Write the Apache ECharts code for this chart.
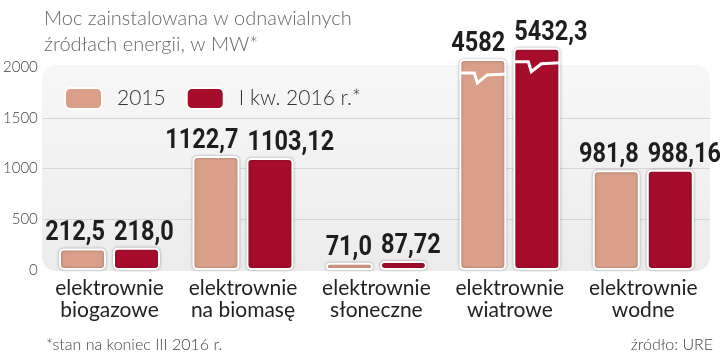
<!DOCTYPE html>
<html>
<head>
<meta charset="utf-8">
<title>Moc zainstalowana w odnawialnych źródłach energii</title>
<script src="https://cdn.jsdelivr.net/npm/echarts@6/dist/echarts.min.js"></script>
<style>
  html, body { margin: 0; padding: 0; background: #fff; }
  #chart { width: 720px; height: 353px; }
</style>
</head>
<body>
<div id="chart"></div>
<script>
// dane z wykresu
var categories = ['elektrownie\nbiogazowe', 'elektrownie\nna biomasę', 'elektrownie\nsłoneczne', 'elektrownie\nwiatrowe', 'elektrownie\nwodne'];
var values2015 = [212.5, 1122.7, 71.0, 4582, 981.8];
var values2016 = [218.0, 1103.12, 87.72, 5432.3, 988.16];
var labels2015 = ['212,5', '1122,7', '71,0', '4582', '981,8'];
var labels2016 = ['218,0', '1103,12', '87,72', '5432,3', '988,16'];
var yTicks = [0, 500, 1000, 1500, 2000];
// wysokość, na jakiej urwane są słupki powyżej skali
var brokenTop2015 = 2080;
var brokenTop2016 = 2190;

var yMax = yTicks[yTicks.length - 1];
var barW = 47, barGapPx = 7;
var col2015 = '#d99f88', col2016 = '#a50d2b';

function shown(vals, top) {
    return vals.map(function (v) { return v > yMax ? top : v; });
}
var shown2015 = shown(values2015, brokenTop2015);
var shown2016 = shown(values2016, brokenTop2016);

var brokenIdx = [];
for (var i = 0; i < categories.length; i++) {
    if (values2015[i] > yMax || values2016[i] > yMax) brokenIdx.push([i, 0]);
}

var chart = echarts.init(document.getElementById('chart'));

var barStyle = function (c) {
    return {
        color: c,
        borderColor: '#fff',
        borderWidth: 2,
        borderRadius: 4,
        shadowColor: 'rgba(0,0,0,0.28)',
        shadowBlur: 3
    };
};

// etykiety wartości - wąski, pogrubiony krój (ściśnięty w poziomie)
function labelSeries(shownVals, texts, side) {
    return {
        type: 'custom',
        clip: false,
        silent: true,
        z: 6,
        data: shownVals.map(function (v, i) { return [i, v]; }),
        encode: { x: 0, y: 1 },
        renderItem: function (params, api) {
            var idx = api.value(0);
            var c = api.coord([idx, api.value(1)]);
            var cx = c[0] + side * (barW + barGapPx) / 2;
            var x = side < 0 ? cx + barW / 2 - 1 : cx - barW / 2 + 1;
            return {
                type: 'text',
                x: x,
                y: c[1] - 1,
                scaleX: 0.84,
                style: {
                    text: texts[idx],
                    fontFamily: 'Roboto',
                    fontWeight: 'bold',
                    fontSize: 28,
                    fill: '#1e1e1e',
                    align: side < 0 ? 'right' : 'left',
                    verticalAlign: 'bottom'
                }
            };
        }
    };
}

var option = {
    animation: false,
    title: [{
        text: 'Moc zainstalowana w odnawialnych\nźródłach energii, w MW*',
        left: 39, top: 1,
        textStyle: { fontFamily: 'Lato', fontWeight: 300, fontSize: 20, lineHeight: 26, color: '#666' }
    }, {
        text: '*stan na koniec III 2016 r.',
        left: 41, top: 332,
        textStyle: { fontFamily: 'Lato', fontWeight: 300, fontSize: 16, color: '#444' }
    }, {
        text: 'źródło: URE',
        right: 2, top: 332,
        textStyle: { fontFamily: 'Lato', fontWeight: 300, fontSize: 16, color: '#444' }
    }],
    graphic: [{
        type: 'rect',
        z: -10,
        shape: { x: 42, y: 65, width: 668, height: 206, r: 14 },
        style: {
            fill: new echarts.graphic.LinearGradient(0, 0, 0, 1, [
                { offset: 0, color: '#f7f7f7' },
                { offset: 1, color: '#ececec' }
            ])
        }
    }],
    legend: {
        left: 59, top: 82,
        itemWidth: 37, itemHeight: 21, itemGap: 20,
        icon: 'roundRect',
        textStyle: { fontFamily: 'Lato', fontWeight: 300, fontSize: 21, color: '#333', padding: [0, 0, 0, 10] },
        data: ['2015', 'I kw. 2016 r.*']
    },
    grid: { left: 42, right: 10, top: 67, bottom: 83 },
    xAxis: {
        type: 'category',
        data: categories,
        axisLine: { show: false },
        axisTick: { show: false },
        axisLabel: { fontFamily: 'Lato', fontSize: 21, lineHeight: 22, color: '#222', margin: 7, interval: 0 }
    },
    yAxis: {
        type: 'value',
        min: 0, max: yMax, interval: 500,
        axisLine: { show: false },
        axisTick: { show: false },
        axisLabel: {
            fontFamily: 'Lato', fontWeight: 300, fontSize: 15, color: '#444', margin: 5,
            formatter: function (v) { return String(v); }
        },
        splitLine: { lineStyle: { color: ['transparent', '#d6d6d6', '#d6d6d6', '#d6d6d6', 'transparent'], width: 1 } }
    },
    series: [{
        name: '2015',
        type: 'bar',
        clip: false,
        barWidth: barW,
        barGap: (barGapPx / barW * 100) + '%',
        data: shown2015,
        itemStyle: barStyle(col2015)
    }, {
        name: 'I kw. 2016 r.*',
        type: 'bar',
        clip: false,
        barWidth: barW,
        data: shown2016,
        itemStyle: barStyle(col2016)
    }, {
        // białe "złamanie" na słupkach wykraczających poza skalę
        type: 'custom',
        clip: false,
        z: 5,
        silent: true,
        data: brokenIdx,
        encode: { x: 0, y: 1 },
        renderItem: function (params, api) {
            var idx = api.value(0);
            var zig = [[0, 14], [15, 14], [18, 24], [28, 16], [barW, 15]];
            var children = [];
            [[values2015, brokenTop2015, -1], [values2016, brokenTop2016, 1]].forEach(function (s) {
                if (s[0][idx] <= yMax) return;
                var c = api.coord([idx, s[1]]);
                var x0 = c[0] + s[2] * (barW + barGapPx) / 2 - barW / 2;
                var pts = zig.map(function (p) { return [x0 + p[0], c[1] + p[1]]; });
                children.push({
                    type: 'polyline',
                    shape: { points: pts },
                    style: { stroke: '#fff', lineWidth: 3, fill: null }
                });
            });
            return { type: 'group', children: children };
        }
    },
    labelSeries(shown2015, labels2015, -1),
    labelSeries(shown2016, labels2016, 1)]
};

chart.setOption(option);
</script>
</body>
</html>
